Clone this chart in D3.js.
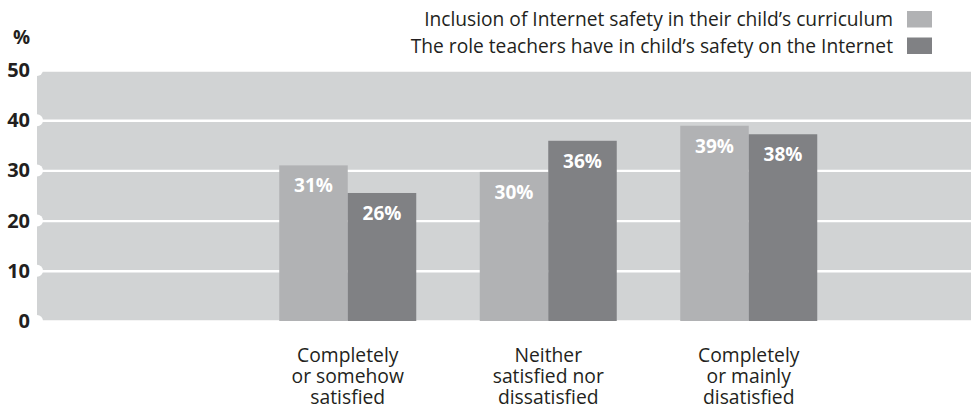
<!DOCTYPE html>
<html>
<head>
<meta charset="utf-8">
<script src="https://cdn.jsdelivr.net/npm/d3@7"></script>
<style>
  body { margin: 0; background: #fff; }
  svg { display: block; }
  text { font-family: "Open Sans", "Noto Sans", sans-serif; }
</style>
</head>
<body>
<svg id="chart" width="971" height="412"></svg>
<script>
// ---- data ----
const categories = [
  ["Completely", "or somehow", "satisfied"],
  ["Neither", "satisfied nor", "dissatisfied"],
  ["Completely", "or mainly", "disatisfied"]
];
const seriesNames = [
  "Inclusion of Internet safety in their child\u2019s curriculum",
  "The role teachers have in child\u2019s safety on the Internet"
];
const seriesAValues = [31, 29.7, 38.9];
const seriesBValues = [25.5, 35.9, 37.2];
const seriesALabels = ["31%", "30%", "39%"];
const seriesBLabels = ["26%", "36%", "38%"];
const yTicks = [0, 10, 20, 30, 40, 50];
const yUnit = "%";

// ---- layout ----
const colors = ["#b1b2b4", "#808184"];
const bgColor = "#d1d3d4";
const textColor = "#231f20";
const plot = { left: 37, right: 971, top: 70, bottom: 321 };

const svg = d3.select("#chart");

const catKeys = categories.map((c, i) => "c" + i);
const x = d3.scaleBand().domain(catKeys).range([247.5, 849]).paddingInner(0.3167).paddingOuter(0.3167 / 2);
const xs = d3.scaleBand().domain([0, 1]).range([0, x.bandwidth()]).padding(0);
const y = d3.scaleLinear().domain([0, 50]).range([plot.bottom, plot.top]);

// background
svg.append("rect")
  .attr("x", plot.left).attr("y", plot.top)
  .attr("width", plot.right - plot.left).attr("height", plot.bottom - plot.top)
  .attr("fill", bgColor);

// gridlines
const grid = svg.append("g")
  .attr("transform", `translate(${plot.left},0)`)
  .call(d3.axisLeft(y).tickValues(yTicks).tickSize(-(plot.right - plot.left)).tickFormat(""));
grid.select(".domain").remove();
grid.selectAll("line").attr("stroke", "#fff").attr("stroke-width", 2.4);

// notches at the left end of each gridline
svg.append("g").selectAll("circle").data(yTicks).join("circle")
  .attr("cx", plot.left).attr("cy", d => y(d)).attr("r", 6).attr("fill", "#fff");

// bars
const data = catKeys.map((k, i) => ({
  key: k,
  vals: [
    { s: 0, v: seriesAValues[i], label: seriesALabels[i] },
    { s: 1, v: seriesBValues[i], label: seriesBLabels[i] }
  ]
}));
const groups = svg.append("g").selectAll("g").data(data).join("g")
  .attr("transform", d => `translate(${x(d.key)},0)`);
groups.selectAll("rect").data(d => d.vals).join("rect")
  .attr("x", d => xs(d.s)).attr("width", xs.bandwidth())
  .attr("y", d => y(d.v)).attr("height", d => y(0) - y(d.v))
  .attr("fill", d => colors[d.s]);
groups.selectAll("text").data(d => d.vals).join("text")
  .attr("x", d => xs(d.s) + xs.bandwidth() / 2)
  .attr("y", d => y(d.v) + 27)
  .attr("text-anchor", "middle")
  .attr("fill", "#fff")
  .attr("font-weight", 700)
  .attr("font-size", "19px")
  .text(d => d.label);

// y axis labels
const yAxis = svg.append("g")
  .attr("transform", `translate(${plot.left},0)`)
  .call(d3.axisLeft(y).tickValues(yTicks).tickSize(0).tickPadding(7));
yAxis.select(".domain").remove();
yAxis.selectAll("text")
  .attr("fill", textColor)
  .attr("font-weight", 700)
  .attr("font-size", "20px")
  .style("font-family", "'Open Sans', sans-serif");
svg.append("text").attr("x", 30).attr("y", 44).attr("text-anchor", "end")
  .attr("fill", textColor).attr("font-weight", 700).attr("font-size", "19px").text(yUnit);

// category labels (one text per line)
const catLines = [];
categories.forEach((lines, i) => lines.forEach((t, j) => catLines.push({ key: catKeys[i], line: j, t })));
svg.append("g").selectAll("text").data(catLines).join("text")
  .attr("x", d => x(d.key) + x.bandwidth() / 2)
  .attr("y", d => 362 + d.line * 21)
  .attr("text-anchor", "middle")
  .attr("fill", textColor)
  .attr("font-size", "19.3px")
  .text(d => d.t);

// legend
const legend = svg.append("g").selectAll("g").data(seriesNames).join("g")
  .attr("transform", (d, i) => `translate(0,${i * 26.5})`);
legend.append("rect").attr("x", 907).attr("y", 11).attr("width", 25).attr("height", 16.5)
  .attr("fill", (d, i) => colors[i]);
legend.append("text").attr("x", 893).attr("y", 26).attr("text-anchor", "end")
  .attr("fill", textColor).attr("font-size", "19.2px").text(d => d);
</script>
</body>
</html>
